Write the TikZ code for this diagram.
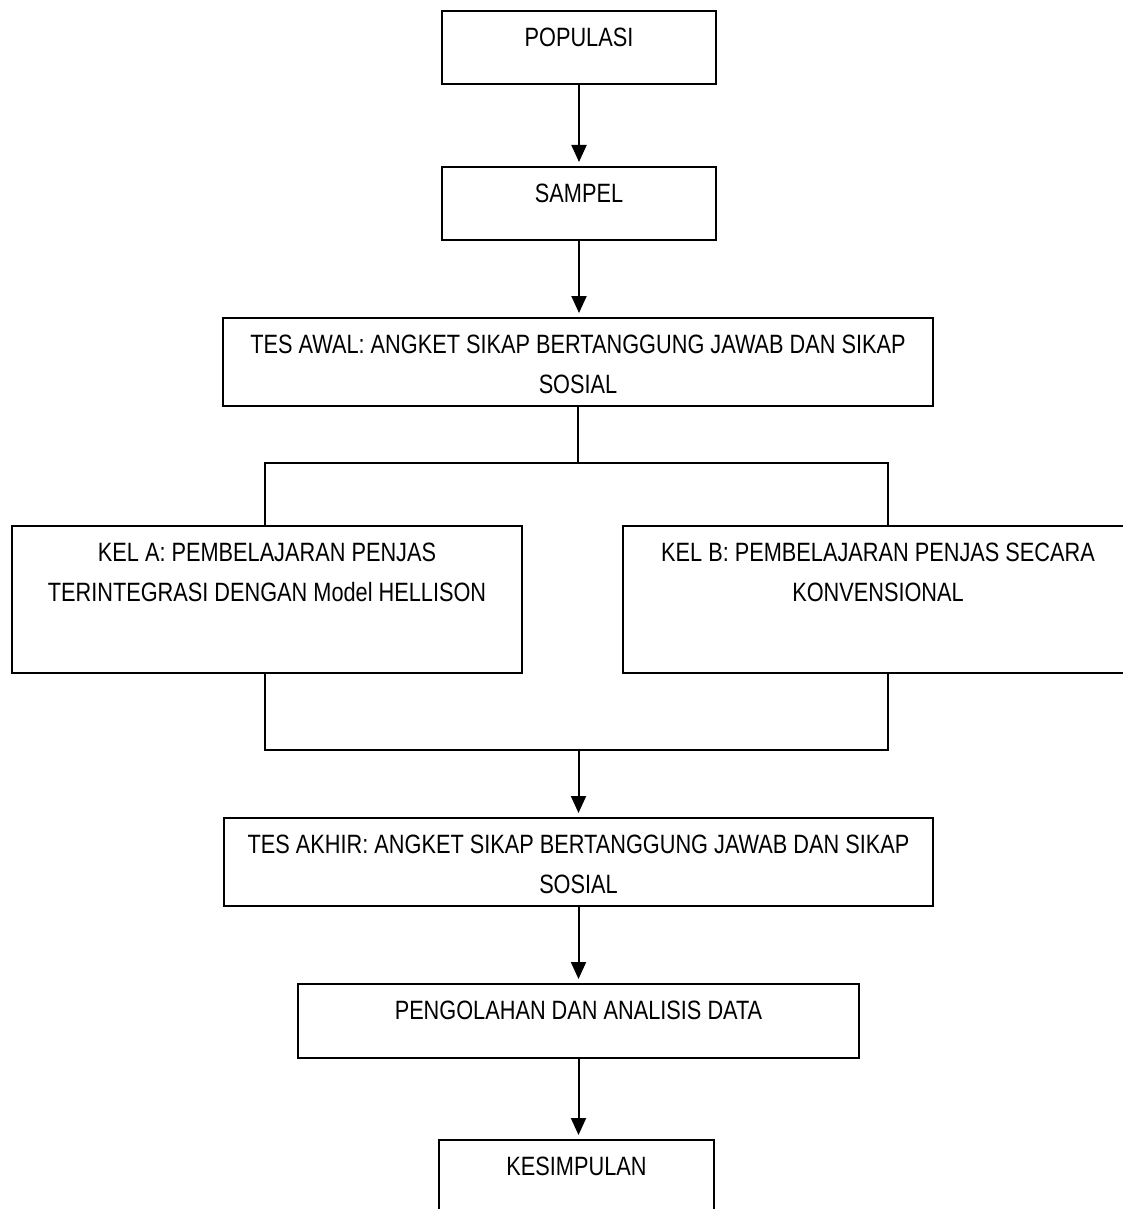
\documentclass[tikz,border=0pt]{standalone}
\usepackage{fontspec}
\setmainfont{Liberation Sans}[FakeStretch=0.82]
\usetikzlibrary{arrows.meta}

\newcommand{\boxtext}[3]{\parbox[t][#2][t]{#1}{\centering\vspace*{17pt}#3}}

\tikzset{
  box/.style={draw, line width=2pt, inner sep=0pt, anchor=north west},
  link/.style={line width=2pt},
  arr/.style={line width=2pt, -{Triangle[width=15pt,length=17pt]}, shorten >=4pt}
}

\begin{document}
\begin{tikzpicture}[x=1pt,y=-1pt,font=\fontsize{26.5}{40}\selectfont]
\useasboundingbox (0,0) rectangle (1123,1209);
\clip (0,0) rectangle (1123,1209);

%Draw Boxes
\node[box] (pop) at (441,10) {\boxtext{274pt}{73pt}{POPULASI}};
\node[box] (sampel) at (441,166) {\boxtext{274pt}{73pt}{SAMPEL}};
\node[box] (tesawal) at (222,317) {\boxtext{710pt}{88pt}{TES AWAL: ANGKET SIKAP BERTANGGUNG JAWAB DAN SIKAP\\ SOSIAL}};
\node[box] (kela) at (11,525) {\boxtext{510pt}{147pt}{KEL A: PEMBELAJARAN PENJAS\\ TERINTEGRASI DENGAN Model HELLISON}};
\node[box] (kelb) at (622,525) {\boxtext{510pt}{147pt}{KEL B: PEMBELAJARAN PENJAS SECARA\\ KONVENSIONAL}};
\node[box] (tesakhir) at (223,817) {\boxtext{709pt}{88pt}{TES AKHIR: ANGKET SIKAP BERTANGGUNG JAWAB DAN SIKAP\\ SOSIAL}};
\node[box] (olah) at (297,983) {\boxtext{561pt}{74pt}{PENGOLAHAN DAN ANALISIS DATA}};
\node[box] (simpul) at (438,1139) {\boxtext{275pt}{73pt}{KESIMPULAN}};

%Split and Merge Points
\coordinate (splitL) at (265,463);
\coordinate (splitR) at (888,463);
\coordinate (mergeL) at (265,750);
\coordinate (mergeR) at (888,750);

%Draw Arrows
\draw[arr] (pop.south) -- (pop.south |- sampel.north);
\draw[arr] (sampel.south) -- (sampel.south |- tesawal.north);

%Draw Split Lines
\draw[link] (tesawal.south) -- (tesawal.south |- splitL);
\draw[link] (kela.north -| splitL) -- (splitL) -- (splitR) -- (kelb.north -| splitR);

%Draw Merge Lines
\draw[link] (kela.south -| mergeL) -- (mergeL) -- (mergeR) -- (kelb.south -| mergeR);
\draw[arr] (tesakhir.north |- mergeL) -- (tesakhir.north);

\draw[arr] (tesakhir.south) -- (tesakhir.south |- olah.north);
\draw[arr] (olah.south) -- (olah.south |- simpul.north);

\end{tikzpicture}
\end{document}
